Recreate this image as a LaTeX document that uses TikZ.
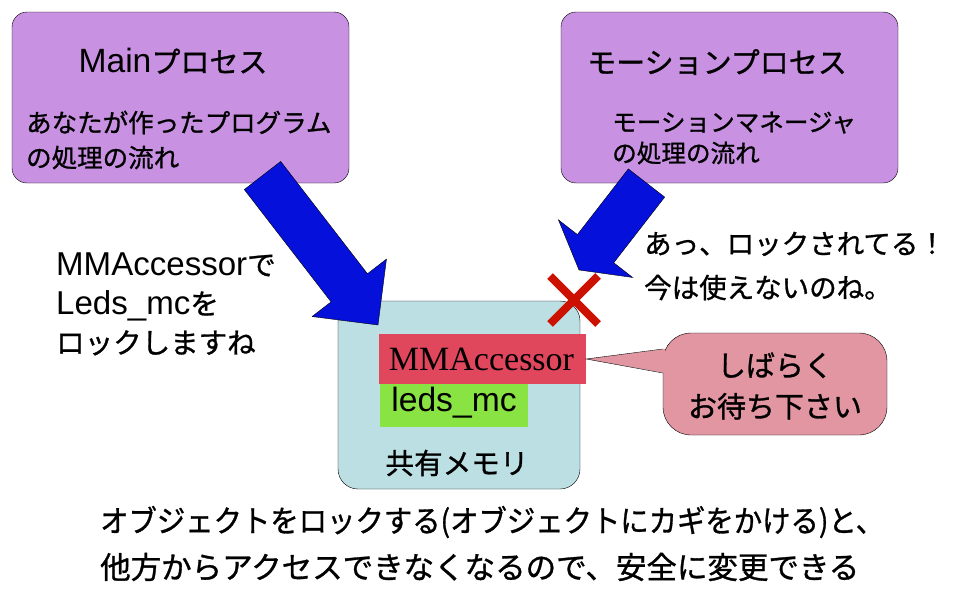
\documentclass[tikz,border=0pt]{standalone}
\usepackage{fontspec}
\setmainfont{Noto Sans CJK JP}[FakeBold=1]
\newfontfamily\arial{Liberation Sans}[Scale=1.16]
\newfontfamily\serifrm{Liberation Serif}
\usepackage{tikz}
\usetikzlibrary{positioning, calc, shapes.misc}
\definecolor{procpurple}{HTML}{C891E2}
\definecolor{memblue}{HTML}{BBDFE3}
\definecolor{lockred}{HTML}{E1475C}
\definecolor{ledgreen}{HTML}{89E343}
\definecolor{waitpink}{HTML}{E196A2}
\definecolor{flowblue}{HTML}{0511DB}
\definecolor{crossred}{HTML}{CC1100}

\begin{document}
\begin{tikzpicture}[x=1pt, y=-1pt,
    procbox/.style={rectangle, rounded corners=15, draw, fill=procpurple, thin},
    membox/.style={rectangle, rounded corners=20, draw, fill=memblue, thin},
    flow/.style={draw, fill=flowblue, thin, line join=miter},
    txt/.style={inner sep=0, font=\fontsize{#1}{#1}\selectfont},
    lines/.style={inner sep=0, align=left, anchor=west, font=\fontsize{28.5}{39}\selectfont}]
    \useasboundingbox (0,0) rectangle (958,597);

    % processes
    \node (mainproc)   at (180.5,97.5) [procbox, minimum width=337, minimum height=171] {};
    \node (motionproc) at (729.5,97.5) [procbox, minimum width=337, minimum height=171] {};
    \node (maintitle)   at (173,61) [txt=29] {{\arial Main}プロセス};
    \node (motiontitle) at (717,62) [txt=29] {モーションプロセス};
    \node (maindesc)   at (26,140) [txt=25.5, align=left, anchor=west, font=\fontsize{25.5}{35}\selectfont] {あなたが作ったプログラム\\の処理の流れ};
    \node (motiondesc) at (612,138) [txt=24.6, align=left, anchor=west, font=\fontsize{24.6}{31}\selectfont] {モーションマネージャ\\の処理の流れ};

    % shared memory
    \node (shmem) at (459,395) [membox, minimum width=242, minimum height=188] {};
    \node (accessor) at (482.5,359) [rectangle, fill=lockred, minimum width=207, minimum height=50, inner sep=0] {};
    \node (ledsmc)   at (454,405.5) [rectangle, fill=ledgreen, minimum width=148, minimum height=43, inner sep=0] {};
    \node (accessorname) at (481.5,359) [inner sep=0, font=\serifrm\fontsize{34}{34}\selectfont] {MMAccessor};
    \node (ledsname)     at (454,403) [inner sep=0, font=\arial\fontsize{29}{29}\selectfont] {leds\_mc};
    \node (shmemname)    at (457,463) [txt=28.6] {共有メモリ};

    % flows
    \coordinate (maintail)   at (262.5,175.5);
    \coordinate (maintip)    at (378,325);
    \coordinate (motiontail) at (646.5,183);
    \coordinate (motiontip)  at (579,270);
    \foreach \t/\h/\l in {maintail/maintip/47, motiontail/motiontip/27} {
        \coordinate (neck) at ($(\h)!\l pt!(\t)$);
        \draw[flow] ($(\t)!23pt!90:(\h)$) -- ($(neck)!23pt!90:(\h)$) -- ($(neck)!47pt!90:(\h)$)
            -- (\h) -- ($(neck)!47pt!-90:(\h)$) -- ($(neck)!23pt!-90:(\h)$) -- ($(\t)!23pt!-90:(\h)$) -- cycle;
    }

    % locked
    \node (cross) at (574,300) [cross out, draw=crossred, line width=8, minimum size=40, inner sep=0] {};

    % balloon
    \node (balloon) at (775,384) [rectangle, rounded corners=28, draw, fill=waitpink, thin, minimum width=224, minimum height=102] {};
    \coordinate (tailtop) at (balloon.west |- 0,349);
    \coordinate (tailbot) at (balloon.west |- 0,373);
    \fill[waitpink] ($(tailtop)+(2,0)$) -- (accessor.east) -- ($(tailbot)+(2,0)$) -- cycle;
    \draw[thin] (tailtop) -- (accessor.east) -- (tailbot);
    \node (waittext) at (775,386) [txt=29, align=center, font=\fontsize{29}{41}\selectfont] {しばらく\\お待ち下さい};

    % comments
    \node (locktext) at (56,304) [lines] {{\arial MMAccessor}で\\{\arial Leds\_mc}を\\ロックしますね};
    \node (busytext) at (644,266) [lines, font=\fontsize{27.5}{44}\selectfont] {あっ、ロックされてる！\\今は使えないのね。};
    \node (summary1) at (100,522) [lines, font=\fontsize{30.5}{30.5}\selectfont, xscale=0.93] {オブジェクトをロックする(オブジェクトにカギをかける)と、};
    \node (summary2) at (100,567) [lines, font=\fontsize{30.5}{30.5}\selectfont] {他方からアクセスできなくなるので、安全に変更できる};
\end{tikzpicture}
\end{document}
